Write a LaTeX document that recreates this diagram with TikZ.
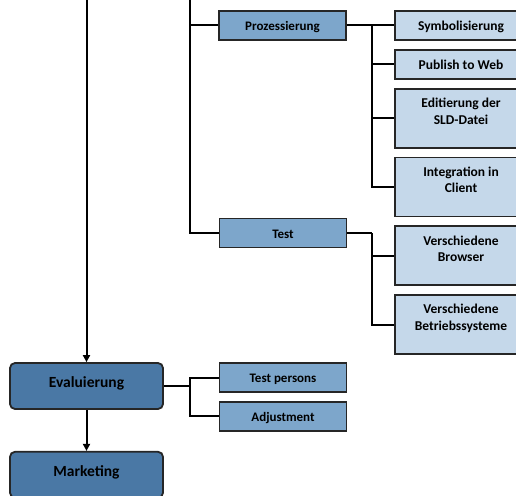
\documentclass[tikz,border=0pt]{standalone}
\usepackage{fontspec}
\setmainfont{Carlito}
\usetikzlibrary{positioning,arrows.meta}
\definecolor{phaseblue}{HTML}{4A78A5}
\definecolor{taskblue}{HTML}{7DA6CB}
\definecolor{subblue}{HTML}{C5D8EA}
\begin{document}
\begin{tikzpicture}[
  x=1pt, y=-1pt,
  phase/.style={draw=black!85, line width=1.8pt, fill=phaseblue, rounded corners=5pt, minimum width=153pt, minimum height=46pt, text depth=8pt, font=\fontsize{15.5}{18}\selectfont\bfseries},
  task/.style={draw=black!85, line width=1.8pt, fill=taskblue, minimum width=127pt, minimum height=29pt, text height=11pt, text depth=1pt, font=\fontsize{13}{16}\selectfont\bfseries},
  subbox/.style={draw=black!85, line width=1.8pt, fill=subblue, minimum width=132pt, align=center, font=\fontsize{13.5}{16.5}\selectfont\bfseries},
  sub/.style={subbox, minimum height=29pt, text height=11pt, text depth=1pt},
  subtall/.style={subbox, minimum height=59pt, text depth=14pt},
  link/.style={line width=2pt},
  node distance=8pt
]
\clip (0,0) rectangle (516,495);
\node[phase] (eval) at (86.5,386) {Evaluierung};
\node[phase, below=41pt of eval] (market) {Marketing};
\node[task] (persons) at (283,377.5) {Test persons};
\node[task, below=of persons] (adjust) {Adjustment};
\node[task] (proc) at (282.5,25.5) {Prozessierung};
\node[task] (test) at (283,233) {Test};
\node[sub] (symb) at (461,25.5) {Symbolisierung};
\node[sub, below=of symb] (web) {Publish to Web};
\node[subtall, below=of web] (sld) {Editierung der\\SLD-Datei};
\node[subtall, below=of sld] (client) {Integration in\\Client};
\node[subtall, below=of client] (browser) {Verschiedene\\Browser};
\node[subtall, below=of browser] (os) {Verschiedene\\Betriebssysteme};
\coordinate (start) at (eval.north |- 0,0);
\coordinate (trunk) at (190,0);
\coordinate (procfork) at (372,25.5);
\coordinate (testfork) at (372,233);
\coordinate (evalfork) at (190,386);
\draw[link, -{Triangle[length=7pt,width=7pt]}] (start) -- (eval.north);
\draw[link, -{Triangle[length=7pt,width=7pt]}] (eval) -- (market);
\draw[link] (trunk) |- (proc.west);
\draw[link] (trunk) |- (test.west);
\draw[link] (proc.east) -- (symb.west);
\draw[link] (procfork) |- (web.west);
\draw[link] (procfork) |- (sld.west);
\draw[link] (procfork) |- (client.west);
\draw[link] (test.east) -- (testfork);
\draw[link] (testfork) |- (browser.west);
\draw[link] (testfork) |- (os.west);
\draw[link] (eval.east) -- (evalfork);
\draw[link] (evalfork) |- (persons.west);
\draw[link] (evalfork) |- (adjust.west);
\end{tikzpicture}
\end{document}
